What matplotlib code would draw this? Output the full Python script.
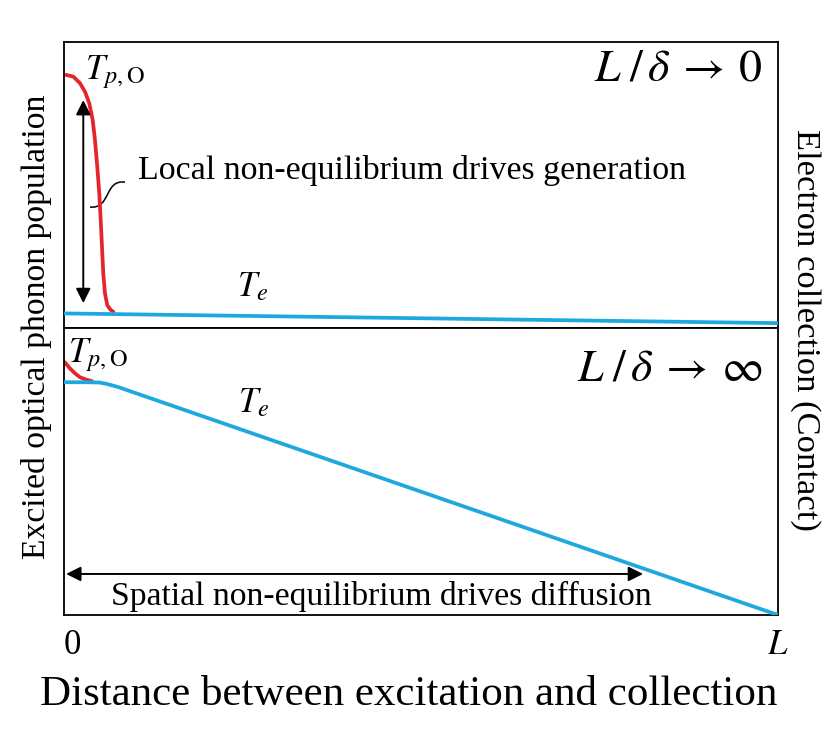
import matplotlib
matplotlib.use("Agg")
import matplotlib.pyplot as plt
from matplotlib.path import Path
from matplotlib.patches import PathPatch

plt.rcParams['font.family'] = ['Liberation Serif', 'DejaVu Serif']
plt.rcParams['mathtext.fontset'] = 'stix'

# ---- data (x as fraction of L, y as normalized temperature) ----
top_red_x = [0.0028, 0.013, 0.0224, 0.0294, 0.0354, 0.0402, 0.0434, 0.0466, 0.0494,
             0.0514, 0.0532, 0.055, 0.0574, 0.0606, 0.0654, 0.069]
top_red_y = [0.885, 0.879, 0.856, 0.826, 0.786, 0.727, 0.657, 0.564, 0.471,
             0.378, 0.284, 0.191, 0.121, 0.080, 0.063, 0.057]
top_blue_x = [0.0, 1.0]
top_blue_y = [0.051, 0.017]

bot_red_x = [0.001, 0.008, 0.015, 0.022, 0.031, 0.039]
bot_red_y = [0.881, 0.860, 0.843, 0.829, 0.820, 0.815]
bot_blue_x = [0.0, 0.03, 0.05, 0.06, 0.075, 1.0]
bot_blue_y = [0.811, 0.811, 0.810, 0.805, 0.795, 0.0]

tick_pos = [0.0, 1.0]
tick_labels = ['0', '$L$']

RED = '#e4262c'
BLUE = '#1ea8e0'
LW = 2.7

fig = plt.figure(figsize=(8.4, 7.43), dpi=100)
L, R = 64 / 840, 778 / 840
Y_TOP, Y_MID, Y_BOT = 1 - 42 / 743, 1 - 328 / 743, 1 - 615 / 743
ax1 = fig.add_axes([L, Y_MID, R - L, Y_TOP - Y_MID])
ax2 = fig.add_axes([L, Y_BOT, R - L, Y_MID - Y_BOT])

for ax in (ax1, ax2):
    ax.set_xlim(0, 1)
    ax.set_ylim(0, 1)
    ax.set_yticks([])
    for s in ax.spines.values():
        s.set_linewidth(1.3)
        s.set_color('black')

ax1.set_xticks([])
ax2.set_xticks(tick_pos)
ax2.set_xticklabels(tick_labels, fontsize=25)
ax2.tick_params(axis='x', length=0, pad=10)
ax2.get_xticklabels()[0].set_horizontalalignment('left')

# curves
ax1.plot(top_red_x, top_red_y, color=RED, lw=LW, zorder=2, solid_capstyle='round', solid_joinstyle='round')
ax1.plot(top_blue_x, top_blue_y, color=BLUE, lw=LW, zorder=3)
ax2.plot(bot_red_x, bot_red_y, color=RED, lw=LW, zorder=2, solid_capstyle='round', solid_joinstyle='round')
ax2.plot(bot_blue_x, bot_blue_y, color=BLUE, lw=LW, zorder=3, solid_joinstyle='round')

# top panel annotations
ax1.text(0.029, 0.895, r'$T_{p,\mathrm{O}}$', fontsize=25, ha='left', va='center', transform=ax1.transAxes)
ax1.text(0.242, 0.14, r'$T_e$', fontsize=25, ha='left', va='center', transform=ax1.transAxes)
ax1.text(0.979, 0.905, r'$L\;/\,\delta\:\rightarrow\:0$', fontsize=33, ha='right', va='center',
         transform=ax1.transAxes)
ax1.text(0.104, 0.552, 'Local non-equilibrium drives generation', fontsize=24.4, ha='left', va='center',
         transform=ax1.transAxes)
ax1.annotate('', xy=(0.027, 0.087), xytext=(0.027, 0.797), xycoords='axes fraction',
             arrowprops=dict(arrowstyle='<|-|>', color='black', lw=1.4, mutation_scale=22,
                             shrinkA=0, shrinkB=0))
verts = [(0.0854, 0.510), (0.0560, 0.520), (0.0660, 0.415), (0.0364, 0.423)]
codes = [Path.MOVETO, Path.CURVE4, Path.CURVE4, Path.CURVE4]
ax1.add_patch(PathPatch(Path(verts, codes), fill=False, lw=1.1, color='black', transform=ax1.transAxes))

# bottom panel annotations
ax2.text(0.006, 0.905, r'$T_{p,\mathrm{O}}$', fontsize=25, ha='left', va='center', transform=ax2.transAxes)
ax2.text(0.244, 0.735, r'$T_e$', fontsize=25, ha='left', va='center', transform=ax2.transAxes)
ax2.text(0.979, 0.855, r'$L\;/\,\delta\:\rightarrow\:\infty$', fontsize=33, ha='right', va='center',
         transform=ax2.transAxes)
ax2.annotate('', xy=(0.811, 0.143), xytext=(0.003, 0.143), xycoords='axes fraction',
             arrowprops=dict(arrowstyle='<|-|>', color='black', lw=1.4, mutation_scale=22,
                             shrinkA=0, shrinkB=0))
ax2.text(0.445, 0.063, 'Spatial non-equilibrium drives diffusion', fontsize=24.2, ha='center', va='center',
         transform=ax2.transAxes)

# outer labels
fig.text(37 / 840, 1 - 327 / 743, 'Excited optical phonon population', fontsize=24.2, rotation=90,
         ha='center', va='center')
fig.text(805 / 840, 1 - 330 / 743, 'Electron collection (Contact)', fontsize=24.8, rotation=-90,
         ha='center', va='center')
fig.text(409 / 840, 1 - 695 / 743, 'Distance between excitation and collection', fontsize=31,
         ha='center', va='center')

fig.savefig('out.png', dpi=100, facecolor='white')
